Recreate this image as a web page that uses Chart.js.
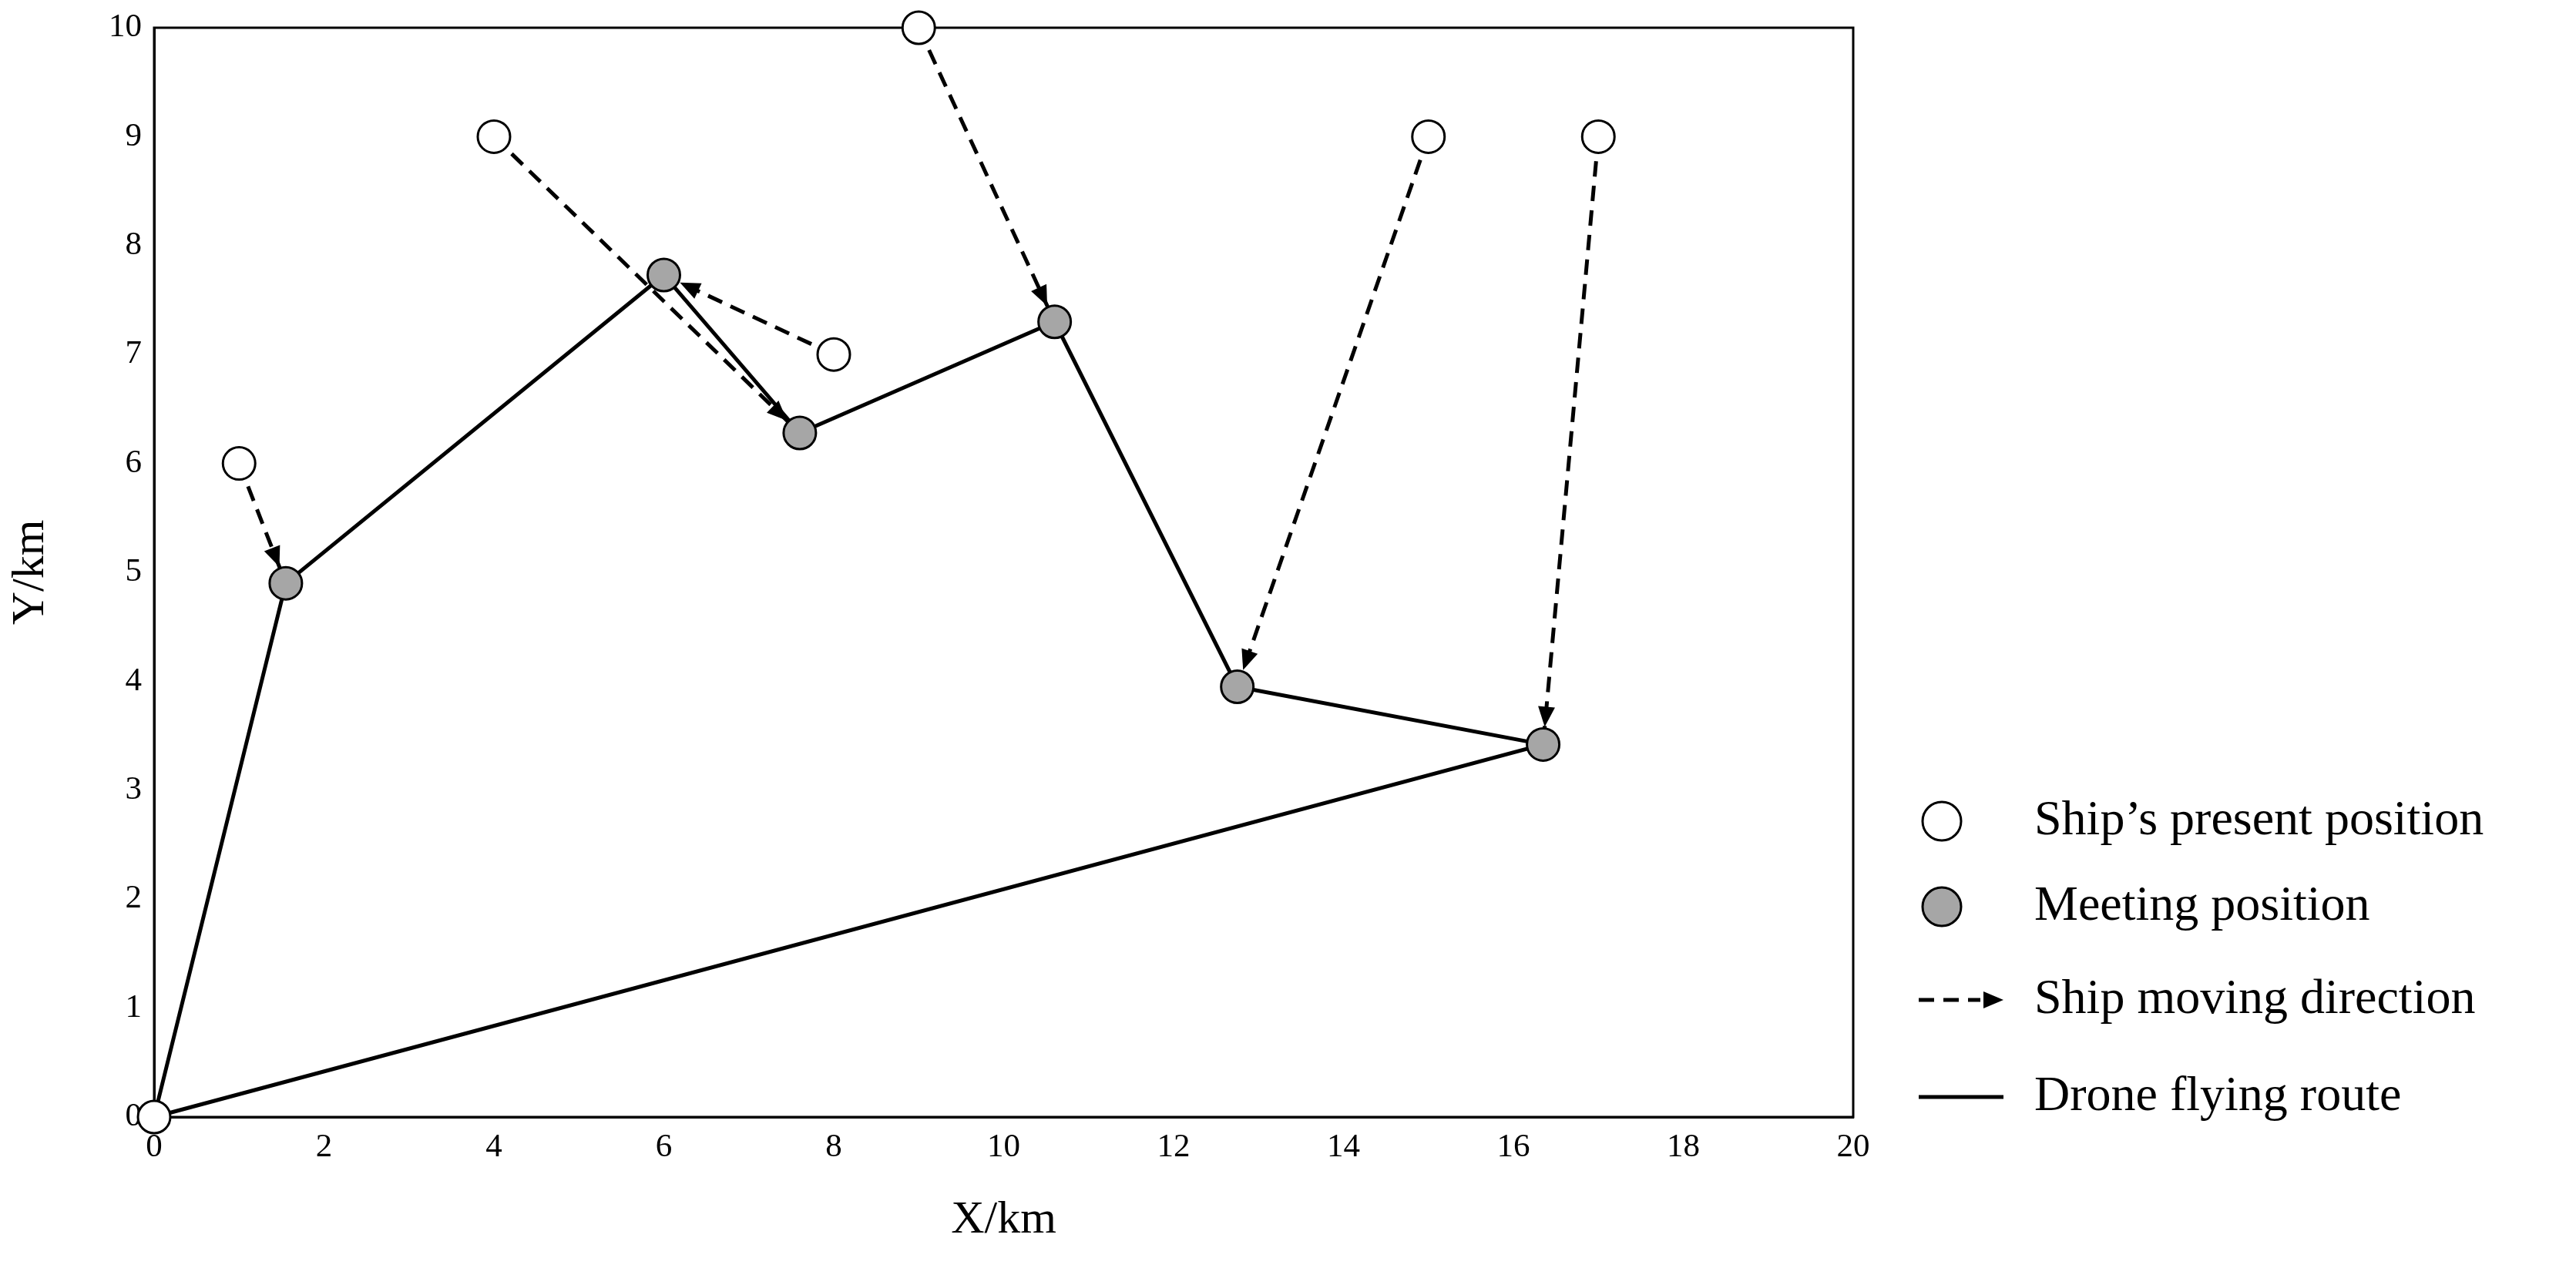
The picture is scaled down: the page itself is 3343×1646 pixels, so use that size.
<!DOCTYPE html>
<html><head><meta charset="utf-8">
<script src="https://cdn.jsdelivr.net/npm/chart.js@4/dist/chart.umd.min.js"></script>
<style>html,body{margin:0;padding:0;background:#fff}#w{width:3343px;height:1646px}</style>
</head><body><div id="w"><canvas id="c"></canvas></div>
<script>
const shipX=[0,1,4,8,9,15,17];
const shipY=[0,6,9,7,10,9,9];
const meetX=[1.55,6.0,7.6,10.6,12.75,16.35];
const meetY=[4.9,7.73,6.28,7.3,3.95,3.42];
const routeX=[0,1.55,6.0,7.6,10.6,12.75,16.35,0];
const routeY=[0,4.9,7.73,6.28,7.3,3.95,3.42,0];
const moveFrom=[[1,6],[4,9],[8,7],[9,10],[15,9],[17,9]];
const moveTo=[[1.55,4.9],[7.6,6.28],[6.0,7.73],[10.6,7.3],[12.75,3.95],[16.35,3.42]];
const xTicks=[0,2,4,6,8,10,12,14,16,18,20];
const yTicks=[0,1,2,3,4,5,6,7,8,9,10];
const legendLabels=["Ship\u2019s present position","Meeting position","Ship moving direction","Drone flying route"];

const R=21, LW=5, FONT='"Liberation Serif", serif';
const zip=(a,b)=>a.map((v,i)=>({x:v,y:b[i]}));
const datasets=[
 {label:'ship',data:zip(shipX,shipY),pointRadius:R,pointBackgroundColor:'#fff',pointBorderColor:'#000',pointBorderWidth:3,showLine:false,order:0,clip:false},
 {label:'meet',data:zip(meetX,meetY),pointRadius:R,pointBackgroundColor:'#a6a6a6',pointBorderColor:'#000',pointBorderWidth:3,showLine:false,order:0,clip:false},
 {label:'route',data:zip(routeX,routeY),showLine:true,borderColor:'#000',borderWidth:LW,pointRadius:0,order:2,clip:false}
];
moveFrom.forEach((f,i)=>datasets.push({label:'move',data:[{x:f[0],y:f[1]},{x:moveTo[i][0],y:moveTo[i][1]}],showLine:true,borderColor:'#000',borderWidth:LW,borderDash:[20,12],pointRadius:0,order:1}));

const extra={id:'extra',
 beforeDatasetsDraw(ch){
  const c=ch.ctx,a=ch.chartArea;
  c.save();c.strokeStyle='#000';c.lineWidth=3;c.strokeRect(a.left,a.top,a.right-a.left,a.bottom-a.top);c.restore();
 },
 afterDatasetsDraw(ch){
  const c=ch.ctx,xs=ch.scales.x,ys=ch.scales.y;
  c.save();c.fillStyle='#000';
  moveFrom.forEach((f,i)=>{
   const x1=xs.getPixelForValue(f[0]),y1=ys.getPixelForValue(f[1]);
   const x2=xs.getPixelForValue(moveTo[i][0]),y2=ys.getPixelForValue(moveTo[i][1]);
   const a=Math.atan2(y2-y1,x2-x1);
   const tx=x2-Math.cos(a)*(R+2),ty=y2-Math.sin(a)*(R+2);
   c.beginPath();c.moveTo(tx,ty);
   c.lineTo(tx-Math.cos(a)*26+Math.sin(a)*11,ty-Math.sin(a)*26-Math.cos(a)*11);
   c.lineTo(tx-Math.cos(a)*26-Math.sin(a)*11,ty-Math.sin(a)*26+Math.cos(a)*11);
   c.closePath();c.fill();
  });
  const lx=2520,tx=2640,rows=[1066,1177,1298,1424];
  c.font='64px '+FONT;c.textBaseline='middle';c.fillStyle='#000';
  legendLabels.forEach((t,i)=>c.fillText(t,tx,rows[i]));
  c.lineWidth=3;
  [['#fff',0],['#a6a6a6',1]].forEach(([col,i])=>{c.beginPath();c.arc(lx,rows[i],25,0,Math.PI*2);c.fillStyle=col;c.fill();c.stroke();});
  c.lineWidth=LW;c.setLineDash([20,12]);c.beginPath();c.moveTo(lx-30,rows[2]);c.lineTo(lx+50,rows[2]);c.stroke();
  c.setLineDash([]);c.fillStyle='#000';c.beginPath();c.moveTo(lx+80,rows[2]);c.lineTo(lx+54,rows[2]-11);c.lineTo(lx+54,rows[2]+11);c.closePath();c.fill();
  c.beginPath();c.moveTo(lx-30,rows[3]);c.lineTo(lx+80,rows[3]);c.stroke();
  c.restore();
 }};

new Chart(document.getElementById('c'),{type:'scatter',data:{datasets},
 options:{responsive:true,maintainAspectRatio:false,animation:false,
  layout:{padding:{left:0,top:36,right:938,bottom:0}},
  plugins:{legend:{display:false},tooltip:{enabled:false}},
  scales:{
   x:{type:'linear',min:0,max:20,afterBuildTicks:s=>{s.ticks=xTicks.map(v=>({value:v}));},
      afterFit:s=>{s.height=196;},
      grid:{display:false,drawTicks:true,tickLength:10,color:'#000'},border:{color:'#000',width:3},
      ticks:{color:'#000',font:{family:FONT,size:43},padding:4},
      title:{display:true,text:'X/km',color:'#000',font:{family:FONT,size:60},padding:{top:0,bottom:26}}},
   y:{type:'linear',min:0,max:10,afterBuildTicks:s=>{s.ticks=yTicks.map(v=>({value:v}));},
      afterFit:s=>{s.width=200;},
      grid:{display:false,drawTicks:true,tickLength:10,color:'#000'},border:{color:'#000',width:3},
      ticks:{color:'#000',font:{family:FONT,size:43},padding:6},
      title:{display:true,text:'Y/km',color:'#000',font:{family:FONT,size:60},padding:{bottom:20}}}
  }},
 plugins:[extra]});
</script></body></html>
